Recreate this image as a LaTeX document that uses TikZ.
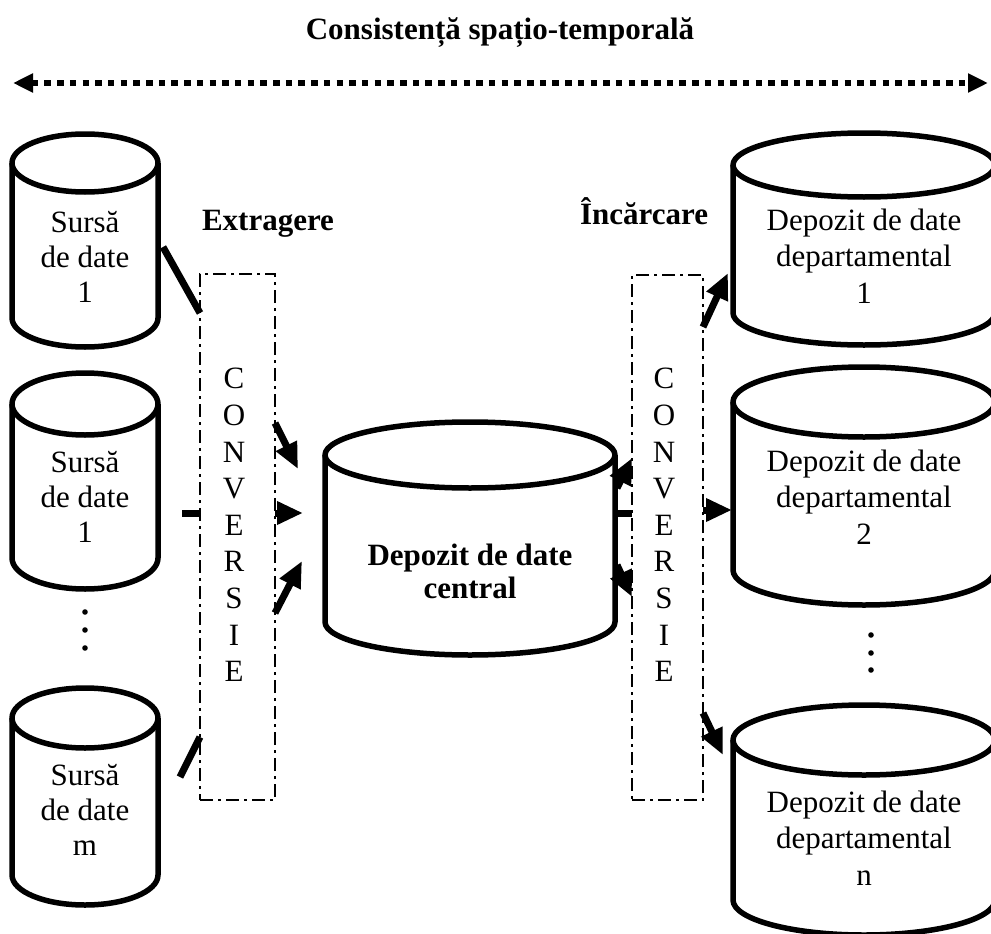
\documentclass[tikz,border=0pt]{standalone}
\usepackage{fontspec}
\setmainfont{Liberation Serif}
\usetikzlibrary{arrows.meta,calc}
\newcommand\drawcyl[5]{% cx, top centre y, bottom centre y, rx, ry
  \draw[cylline] ({#1-#4},#2) -- ({#1-#4},#3) arc[start angle=180,end angle=360,x radius=#4pt,y radius=#5pt] -- ({#1+#4},#2);
  \draw[cylline] (#1,#2) ellipse[x radius=#4pt,y radius=#5pt];
}
\begin{document}
\begin{tikzpicture}[x=1pt,y=-1pt,
  every node/.style={inner sep=0pt, outer sep=0pt},
  txt/.style={font=\fontsize{31}{35}\selectfont, align=center},
  rtxt/.style={font=\fontsize{31}{36.5}\selectfont, align=center},
  btxt/.style={font=\fontsize{31}{33}\selectfont\bfseries, align=center},
  convtxt/.style={font=\fontsize{31}{36.6}\selectfont, align=center},
  cylline/.style={line width=5.5pt, line join=round},
  convbox/.style={draw, line width=2.8pt, dash pattern=on 13pt off 5pt on 3pt off 5pt},
  link/.style={line width=7pt},
  arr/.style={line width=7pt, -{Triangle[length=26pt,width=22pt]}},
  spanarrow/.style={line width=5.5pt, dash pattern=on 6.5pt off 6.2pt,
     {Triangle[length=20pt,width=18pt]}-{Triangle[length=20pt,width=18pt]}},
  dotmark/.style={fill=black}
]
\useasboundingbox (0,0) rectangle (991,934);

% title and span arrow
\node[btxt, anchor=base] (title) at (500,40) {Consistență spațio-temporală};
\coordinate (spanL) at (13,83);
\coordinate (spanR) at (988,83);
\draw[spanarrow] (spanL) -- (spanR);

% left source cylinders
\drawcyl{85}{163}{318}{73}{29}
\node[txt] (src1) at (85,257) {Sursă\\de date\\1};
\drawcyl{85}{404}{558}{73}{31}
\node[txt] (src2) at (85,497) {Sursă\\de date\\1};
\drawcyl{85}{718}{875}{73}{30}
\node[txt] (src3) at (85,810) {Sursă\\de date\\m};
\fill[dotmark] (85,612) circle[radius=2.8pt] (85,630) circle[radius=2.8pt] (85,648) circle[radius=2.8pt];

% central cylinder
\drawcyl{470}{455}{622}{145}{33}
\node[btxt] (central) at (470,571) {Depozit de date\\central};

% right cylinders
\drawcyl{864}{165}{313}{131}{32}
\node[rtxt] (dep1) at (864,256) {Depozit de date\\departamental\\1};
\drawcyl{864}{402}{570}{131}{35}
\node[rtxt] (dep2) at (864,497) {Depozit de date\\departamental\\2};
\drawcyl{864}{740}{900}{131}{35}
\node[rtxt] (dep3) at (864,838) {Depozit de date\\departamental\\n};
\fill[dotmark] (871,635) circle[radius=2.8pt] (871,653) circle[radius=2.8pt] (871,670) circle[radius=2.8pt];

% conversion boxes
\node[convbox, minimum width=75pt, minimum height=526pt] (box1) at (237.5,537) {};
\node[convtxt] (conv1) at (234,525) {C\\O\\N\\V\\E\\R\\S\\I\\E};
\node[convbox, minimum width=71pt, minimum height=525pt] (box2) at (667.5,537.5) {};
\node[convtxt] (conv2) at (664,525) {C\\O\\N\\V\\E\\R\\S\\I\\E};

% labels
\node[btxt, anchor=base] (extr) at (268,230) {Extragere};
\node[btxt, anchor=base] (inc) at (644,224) {Încărcare};

% sources -> box1
\coordinate (s1o) at (163,247);
\coordinate (s2o) at (182,513);
\coordinate (s3o) at (180,777);
\draw[link] (s1o) -- ($(box1.north west)+(0,39)$);
\draw[link] (s2o) -- ($(box1.north west)+(0,239)$);
\draw[link] (s3o) -- ($(box1.north west)+(0,463)$);

% box1 -> central
\coordinate (c1i) at (298,469);
\coordinate (c2i) at (303,513);
\coordinate (c3i) at (302,561);
\draw[arr] ($(box1.north east)+(0,149)$) -- (c1i);
\draw[arr] ($(box1.north east)+(0,239)$) -- (c2i);
\draw[arr] ($(box1.north east)+(0,339)$) -- (c3i);

% central -> box2
\coordinate (c1o) at (617,488);
\coordinate (c2o) at (617,513);
\coordinate (c3o) at (617,565);
\draw[arr] (c1o) -- ($(box2.north west)+(0,183)$);
\draw[link] (c2o) -- ($(box2.north west)+(0,238)$);
\draw[arr] (c3o) -- ($(box2.north west)+(0,322)$);

% box2 -> departmental
\coordinate (d1i) at (728,273);
\coordinate (d2i) at (732,510);
\coordinate (d3i) at (723,755);
\draw[arr] ($(box2.north east)+(0,52)$) -- (d1i);
\draw[arr] ($(box2.north east)+(0,235)$) -- (d2i);
\draw[arr] ($(box2.north east)+(0,438)$) -- (d3i);
\end{tikzpicture}
\end{document}
